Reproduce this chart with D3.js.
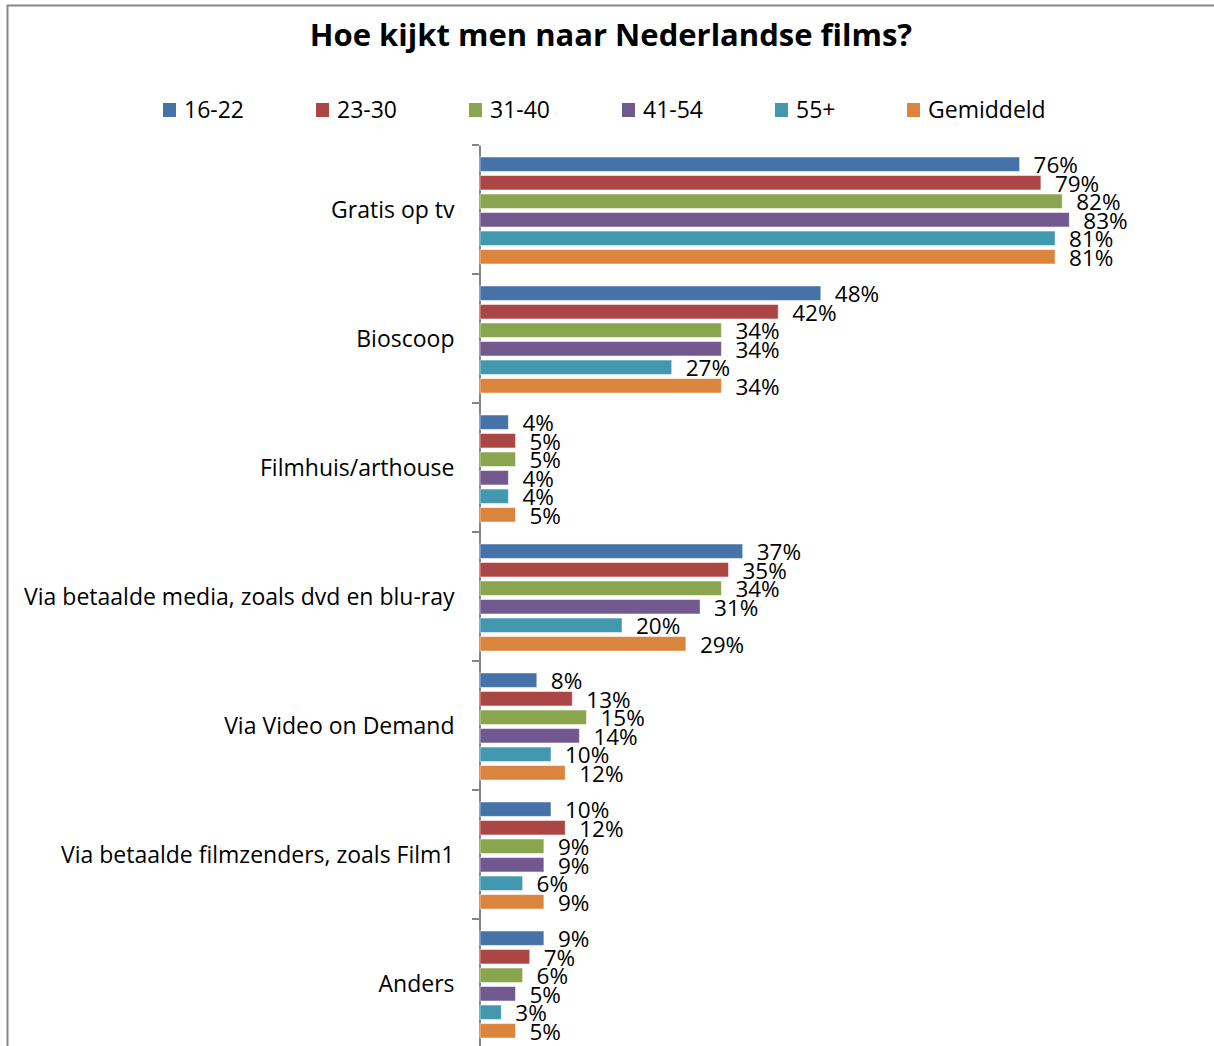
<!DOCTYPE html>
<html>
<head>
<meta charset="utf-8">
<script src="https://cdn.jsdelivr.net/npm/d3@7"></script>
<style>
  body { margin: 0; background: #fff; }
  svg text { font-family: "Open Sans", "Noto Sans", sans-serif; fill: #000; }
</style>
</head>
<body>
<div id="chart"></div>
<script>
// data
const categories = ["Gratis op tv", "Bioscoop", "Filmhuis/arthouse",
  "Via betaalde media, zoals dvd en blu-ray", "Via Video on Demand",
  "Via betaalde filmzenders, zoals Film1", "Anders"];
const series = ["16-22", "23-30", "31-40", "41-54", "55+", "Gemiddeld"];
const v1622 = [76, 48, 4, 37, 8, 10, 9];
const v2330 = [79, 42, 5, 35, 13, 12, 7];
const v3140 = [82, 34, 5, 34, 15, 9, 6];
const v4154 = [83, 34, 4, 31, 14, 9, 5];
const v55   = [81, 27, 4, 20, 10, 6, 3];
const vGem  = [81, 34, 5, 29, 12, 9, 5];
const colors = ["#4572A7", "#AA4643", "#89A54E", "#71588F", "#4198AF", "#DB843D"];

const values = [v1622, v2330, v3140, v4154, v55, vGem];
const W = 1214, H = 1046;

const svg = d3.select("#chart").append("svg")
  .attr("width", W).attr("height", H);

// chart frame (top + left edge visible)
svg.append("path")
  .attr("d", `M7.5,${H} V5.5 H${W}`)
  .attr("fill", "none").attr("stroke", "#868686").attr("stroke-width", 2);

svg.append("text")
  .attr("x", 611).attr("y", 46)
  .attr("text-anchor", "middle")
  .style("font-size", "31px").style("font-weight", "bold")
  .text("Hoe kijkt men naar Nederlandse films?");

// legend
const legendX = [163, 316, 469, 622, 775, 907];
const lg = svg.append("g").selectAll("g")
  .data(series)
  .join("g")
  .attr("transform", (d, i) => `translate(${legendX[i]}, 110)`);
lg.append("rect")
  .attr("x", 0).attr("y", -7).attr("width", 13).attr("height", 14)
  .attr("fill", (d, i) => colors[i]);
lg.append("text")
  .attr("x", 21).attr("y", 8)
  .style("font-size", "23px")
  .text(d => d);

const x = d3.scaleLinear()
  .domain([0, 100])
  .range([479, 1189]);

const y0 = d3.scaleBand()
  .domain(categories)
  .range([145, 145 + 129 * categories.length])
  .padding(0);

const y1 = d3.scaleBand()
  .domain(series)
  .range([12, 119])
  .paddingInner(0.22)
  .paddingOuter(0);

// axis
svg.append("g")
  .attr("transform", `translate(479.5, 0)`)
  .call(d3.axisLeft(y0).tickSize(0).tickPadding(25))
  .call(g => g.select(".domain").attr("stroke", "#868686").attr("stroke-width", 2))
  .call(g => g.selectAll("text").style("font-size", "23px").attr("dy", "0.35em"));

// tick marks between categories
svg.append("g").selectAll("line")
  .data(categories.concat(["_end"]))
  .join("line")
  .attr("x1", 472).attr("x2", 479)
  .attr("y1", (d, i) => 145 + 129 * i)
  .attr("y2", (d, i) => 145 + 129 * i)
  .attr("stroke", "#868686").attr("stroke-width", 2);

const rows = [];
categories.forEach((c, ci) => {
  series.forEach((s, si) => {
    rows.push({ cat: c, ser: s, si: si, val: values[si][ci] });
  });
});

const groups = svg.append("g");

groups.selectAll("rect")
  .data(rows)
  .join("rect")
  .attr("x", x(0) + 1)
  .attr("y", d => y0(d.cat) + y1(d.ser))
  .attr("width", d => x(d.val) - x(0))
  .attr("height", y1.bandwidth())
  .attr("fill", d => colors[d.si])
  .attr("stroke", "#ffffff").attr("stroke-opacity", 0.5).attr("stroke-width", 1);

groups.selectAll("text.val")
  .data(rows)
  .join("text")
  .attr("class", "val")
  .attr("x", d => x(d.val) + 15)
  .attr("y", d => y0(d.cat) + y1(d.ser) + y1.bandwidth() / 2 + 9)
  .style("font-size", "22.5px")
  .text(d => d.val + "%");
</script>
</body>
</html>
